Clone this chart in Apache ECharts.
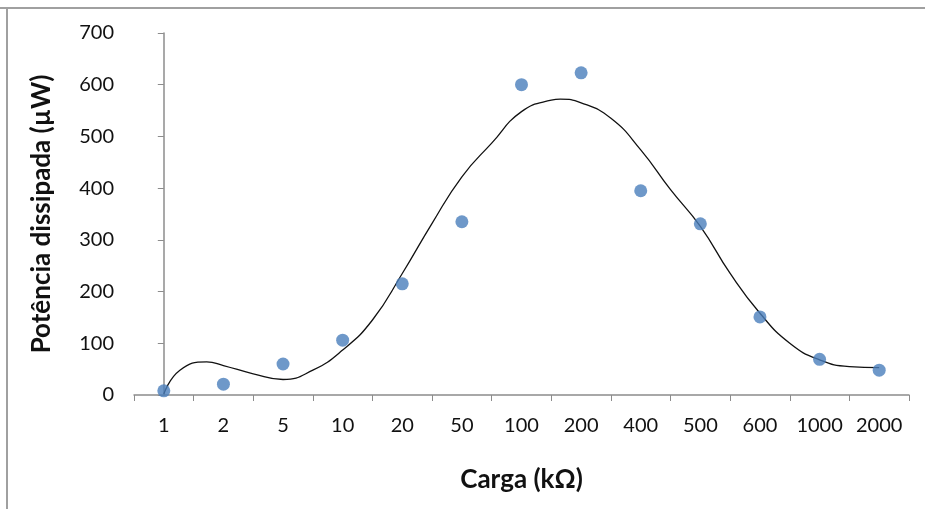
<!DOCTYPE html>
<html>
<head>
<meta charset="utf-8">
<script src="https://cdn.jsdelivr.net/npm/echarts@6/dist/echarts.min.js"></script>
<style>
  html, body { margin: 0; padding: 0; background: #fff; }
  #chart { width: 925px; height: 509px; }
</style>
</head>
<body>
<div id="chart"></div>
<script>
// Load resistances (kΩ) used as categories
const cargas = ['1', '2', '5', '10', '20', '50', '100', '200', '400', '500', '600', '1000', '2000'];
// Measured dissipated power (µW) for each load
const potencia = [8, 21, 60, 106, 215, 335, 600, 623, 395, 331, 151, 69, 48];
// Trend curve: position along the category axis (index) and power value
const tendenciaPos = [0, 0.27, 0.72, 1, 1.5, 2, 2.5, 3, 3.5, 4, 4.5, 5, 5.5, 6, 6.5, 6.65, 7, 7.5, 8, 8.5, 9, 9.5, 10, 10.5, 11, 11.5, 12];
const tendenciaVal = [2, 48, 64, 57, 41, 30, 48, 87, 145, 235, 332, 422, 487, 548, 570, 572, 565, 535, 474, 397, 326, 235, 158, 100, 68, 55, 53];
const yTicks = [0, 100, 200, 300, 400, 500, 600, 700];

const FONT = 'Lato, "Open Sans", sans-serif';
const tickText = { fontFamily: FONT, fontSize: 20, color: '#111', lineHeight: 22 };
const chart = echarts.init(document.getElementById('chart'));

chart.setOption({
  animation: false,
  backgroundColor: '#ffffff',
  textStyle: { fontFamily: FONT, fontSize: 20, color: '#111' },
  grid: { left: 134, right: 16, top: 33, bottom: 114, containLabel: false },
  graphic: [
    { type: 'line', shape: { x1: 0, y1: 8, x2: 925, y2: 8 }, style: { stroke: '#a0a0a0', lineWidth: 2 } },
    { type: 'line', shape: { x1: 7, y1: 8, x2: 7, y2: 509 }, style: { stroke: '#a0a0a0', lineWidth: 2 } }
  ],
  xAxis: [
    {
      type: 'category',
      data: cargas,
      boundaryGap: true,
      name: 'Carga (kΩ)',
      nameLocation: 'middle',
      nameGap: 72,
      nameTextStyle: { fontFamily: FONT, fontSize: 26, fontWeight: 'bold', color: '#111' },
      axisLine: { lineStyle: { color: '#8c8c8c', width: 1.5 } },
      axisTick: { show: true, alignWithLabel: false, length: 6, lineStyle: { color: '#8c8c8c' } },
      axisLabel: {
        interval: 0, margin: 20, hideOverlap: false,
        formatter: v => '{t|' + v + '}',
        rich: { t: tickText }
      },
      splitLine: { show: false }
    },
    {
      type: 'value',
      min: -0.5,
      max: 12.5,
      show: false
    }
  ],
  yAxis: {
    type: 'value',
    min: 0,
    max: 700,
    interval: 100,
    name: 'Potência dissipada (µW)',
    nameLocation: 'middle',
    nameGap: 79,
    nameRotate: 90,
    nameTextStyle: { fontFamily: FONT, fontSize: 26, fontWeight: 'bold', color: '#111' },
    axisLine: { show: true, lineStyle: { color: '#8c8c8c', width: 1.5 } },
    axisTick: { show: true, length: 6, lineStyle: { color: '#8c8c8c' } },
    axisLabel: {
      margin: 20,
      formatter: v => (yTicks.includes(v) ? '{t|' + v + '}' : ''),
      rich: { t: tickText }
    },
    splitLine: { show: false }
  },
  series: [
    {
      name: 'Tendência',
      type: 'line',
      xAxisIndex: 1,
      data: tendenciaPos.map((p, i) => [p, tendenciaVal[i]]),
      smooth: 0.5,
      symbol: 'none',
      lineStyle: { color: '#111111', width: 1.3 },
      z: 2
    },
    {
      name: 'Potência',
      type: 'scatter',
      xAxisIndex: 0,
      data: potencia,
      symbol: 'circle',
      symbolSize: 13,
      itemStyle: { color: '#4a7ebb' },
      z: 3
    }
  ]
});
</script>
</body>
</html>
